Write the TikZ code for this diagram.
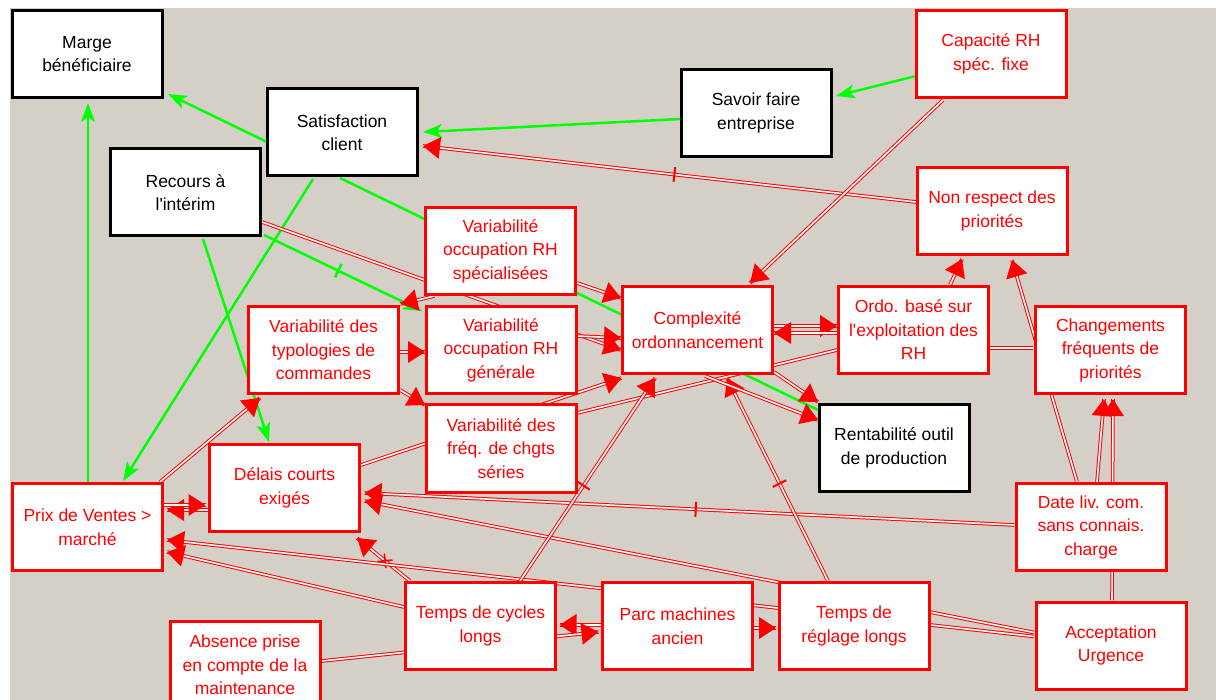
\documentclass[tikz,border=0pt]{standalone}
\usepackage{fontspec}
\setmainfont{Liberation Sans}[Ligatures=TeXOff]
\usetikzlibrary{arrows.meta,calc,shapes.misc,shapes.geometric}
\definecolor{bgc}{RGB}{212,208,200}
\definecolor{lgreen}{RGB}{0,255,0}
\pgfdeclarelayer{bg}\pgfdeclarelayer{edges}\pgfsetlayers{bg,edges,main}
\begin{document}
\begin{tikzpicture}[x=1pt,y=-1pt,
  box/.style={line width=3pt, fill=white, minimum width=150pt, minimum height=87pt,
    align=center, inner sep=2pt, font=\fontsize{17.5}{23.5}\selectfont},
  rbox/.style={box, draw=red, text=red},
  kbox/.style={box, draw=black, text=black},
  gline/.style={draw=lgreen, line width=2.5pt},
  garr/.style={gline, -{Stealth[length=19pt,width=14pt,inset=5pt]}},
  rline/.style={draw=red, line width=1pt, double=white, double distance=1.6pt},
  rhead/.style={pos=1, sloped, allow upside down, shape=isosceles triangle,
    isosceles triangle stretches, fill=red, draw=none, inner sep=0pt, outer sep=0pt,
    minimum width=22pt, minimum height=17pt, anchor=apex},
  rtick/.style={sloped, fill=red, inner sep=0pt, minimum width=2pt, minimum height=15pt},
  gtick/.style={sloped, fill=lgreen, inner sep=0pt, minimum width=2.5pt, minimum height=15pt},
  xtick/.style={sloped, draw=red, cross out, line width=1.5pt, inner sep=0pt, minimum size=9pt}]
\useasboundingbox (0,0) rectangle (1216,700);
\begin{pgfonlayer}{bg}
\fill[white] (0,0) rectangle (1216,700);
\fill[bgc] (10,8) rectangle (1216,700);
\end{pgfonlayer}
% nodes
\node[kbox] (marge) at (87,54) {Marge\\bénéficiaire};
\node[kbox] (sat) at (342,132.5) {Satisfaction\\client};
\node[kbox] (rec) at (185.5,192.5) {Recours à\\l'intérim};
\node[kbox] (sav) at (756,113) {Savoir faire\\entreprise};
\node[rbox] (cap) at (991,54) {Capacité RH\\spéc. fixe};
\node[rbox] (nrp) at (992,211) {Non respect des\\priorités};
\node[rbox] (vos) at (500.5,251) {Variabilité\\occupation RH\\spécialisées};
\node[rbox] (vog) at (501,350) {Variabilité\\occupation RH\\générale};
\node[rbox] (vtc) at (323.5,350) {Variabilité des\\typologies de\\commandes};
\node[rbox] (cx) at (697.5,330) {Complexité\\ordonnancement};
\node[rbox] (ordo) at (913.5,330) {Ordo. basé sur\\l'exploitation des\\RH};
\node[rbox] (chg) at (1110.5,350) {Changements\\fréquents de\\priorités};
\node[kbox] (rent) at (894,448) {Rentabilité outil\\de production};
\node[rbox] (vfc) at (501,448.5) {Variabilité des\\fréq. de chgts\\séries};
\node[rbox] (del) at (284.5,488) {Délais courts\\exigés};
\node[rbox] (prix) at (87.5,527) {Prix de Ventes >\\marché};
\node[rbox] (date) at (1091,527) {Date liv. com.\\sans connais.\\charge};
\node[rbox] (tcl) at (480.5,626) {Temps de cycles\\longs};
\node[rbox] (parc) at (677.5,626) {Parc machines\\ancien};
\node[rbox] (treg) at (854,626) {Temps de\\réglage longs};
\node[rbox] (acc) at (1111,645.5) {Acceptation\\Urgence};
\node[rbox] (abs) at (245,665) {Absence prise\\en compte de la\\maintenance};
% connectors
\begin{pgfonlayer}{edges}
\draw[garr] ($(prix)+(0.5,-45)$) -- ($(marge)+(1,49)$);
\draw[garr] ($(sat)+(-75,9.5)$) -- ($(marge)+(81,40)$);
\draw[garr] ($(sav)+(-76,6)$) -- ($(sat)+(81,-0.5)$);
\draw[garr] ($(cap)+(-75,22)$) -- ($(sav)+(80,-17)$);
\draw[garr] ($(sat)+(-29,46.5)$) -- ($(prix)+(35.5,-46)$);
\draw[garr] ($(rec)+(17.5,46.5)$) -- ($(del)+(-15.5,-46)$);
\draw[garr] ($(rec)+(78.5,42.5)$) -- node[pos=0.47, gtick]{} ($(vog)+(-79,-39)$);
\draw[gline] ($(sat)+(-2,45.5)$) -- ($(rent)+(-76,-38)$);
%
\draw[rline] ($(nrp)+(-76,-9)$) -- node[pos=0.49, rtick]{} node[rhead]{} ($(sat)+(81,13.5)$);
\draw[rline] ($(cap)+(-48,46)$) -- node[rhead]{} ($(cx)+(52.5,-47)$);
\draw[rline] ($(rec)+(76.5,29.5)$) -- node[rhead]{} ($(cx)+(-76.5,20)$);
\draw[rline] ($(vos)+(76.5,32)$) -- node[rhead]{} ($(cx)+(-76.5,-32)$);
\draw[rline] ($(vog)+(76,-14)$) -- node[rhead]{} ($(cx)+(-76.5,8)$);
\draw[rline] ($(vos)+(-66,45)$) -- node[rhead]{} ($(vtc)+(77,-46)$);
\draw[rline] ($(vtc)+(76.5,2)$) -- node[rhead]{} ($(vog)+(-76,2)$);
\draw[rline] ($(vtc)+(76.5,40)$) -- node[rhead]{} ($(vfc)+(-76,-43.5)$);
\draw[rline] ($(del)+(76.5,-23)$) -- node[rhead]{} ($(cx)+(-76,48)$);
\draw[rline] ($(vfc)+(76,-35.5)$) -- ($(ordo)+(-76.5,20)$);
\draw[rline] ($(cx)+(76.5,-4)$) -- node[rhead]{} ($(ordo)+(-76.5,-4)$);
\draw[rline] ($(ordo)+(-76.5,3)$) -- node[rhead]{} ($(cx)+(76.5,3)$);
\draw[rline] ($(ordo)+(36.5,-45)$) -- node[rhead]{} ($(nrp)+(-30,48)$);
\draw[rline] ($(date)+(-14,-45)$) -- node[rhead]{} ($(nrp)+(20,49)$);
\draw[rline] ($(ordo)+(76.5,18)$) -- ($(chg)+(-77.5,-2)$);
\draw[rline] ($(date)+(6,-45)$) -- node[rhead]{} ($(chg)+(-6.5,49)$);
\draw[rline] ($(acc)+(1,-45.5)$) -- node[rhead]{} ($(chg)+(2.5,49)$);
\draw[rline] ($(date)+(-77,-2)$) -- node[pos=0.49, rtick]{} node[rhead]{} ($(del)+(80,5)$);
\draw[rline] ($(del)+(-76.5,22)$) -- node[rhead]{} ($(prix)+(79.5,-17)$);
\draw[rline] ($(prix)+(76.5,-22)$) -- node[rhead]{} ($(del)+(-79,17)$);
\draw[rline] ($(prix)+(72.5,-45)$) -- node[rhead]{} ($(vtc)+(-63.5,48)$);
\draw[rline] ($(tcl)+(-70.5,-45)$) -- node[pos=0.47, xtick]{} node[rhead]{} ($(del)+(72.5,50)$);
\draw[rline] ($(tcl)+(-76.5,-19)$) -- node[rhead]{} ($(prix)+(79.5,25)$);
\draw[rline] ($(acc)+(-77,-9)$) -- node[rhead]{} ($(prix)+(79.5,13)$);
\draw[rline] ($(acc)+(-77,-13)$) -- node[rhead]{} ($(del)+(80,13)$);
\draw[rline] ($(tcl)+(39.5,-45)$) -- node[pos=0.47, rtick]{} node[rhead]{} ($(cx)+(-42.5,48)$);
\draw[rline] ($(treg)+(-26,-45)$) -- node[pos=0.48, rtick]{} node[rhead]{} ($(cx)+(29.5,48)$);
\draw[rline] ($(cx)+(76.5,42)$) -- node[rhead]{} ($(rent)+(-76,-46)$);
\draw[rline] ($(cx)+(7.5,46)$) -- node[rhead]{} ($(rent)+(-76,-28)$);
\draw[rline] ($(parc)+(-76.5,-1)$) -- node[rhead]{} ($(tcl)+(79,-1)$);
\draw[rline] ($(abs)+(77,-4)$) -- node[rhead]{} ($(parc)+(-79,6)$);
\draw[rline] ($(parc)+(76.5,2)$) -- node[rhead]{} ($(treg)+(-78,2)$);
\end{pgfonlayer}
\end{tikzpicture}
\end{document}
